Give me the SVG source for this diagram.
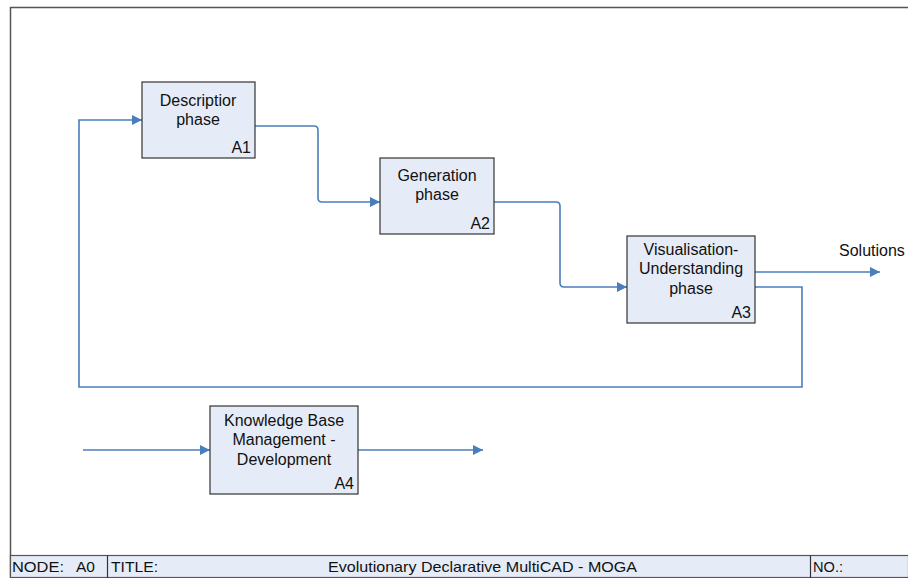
<svg xmlns="http://www.w3.org/2000/svg" width="908" height="578" viewBox="0 0 908 578">
  <style>
    .box { fill: #e6ecf7; stroke: #333; stroke-width: 1.2; }
    .lbl { font-family: "Liberation Sans", Arial, sans-serif; font-size: 16px; fill: #111; }
    .tb { font-size: 15px; }
    .mid { text-anchor: middle; }
    .end { text-anchor: end; }
    .wire { fill: none; stroke: #4a7ebb; stroke-width: 1.6; }
    .frame { fill: none; stroke: #555; stroke-width: 1.5; }
  </style>
  <defs>
    <marker id="arrow" viewBox="0 0 10 10" refX="10" refY="5" markerWidth="10" markerHeight="10" markerUnits="userSpaceOnUse" orient="auto">
      <path d="M0,0 L10,5 L0,10 z" fill="#4a7ebb"/>
    </marker>
  </defs>

  <rect width="908" height="578" fill="#fff"/>

  <!-- page frame -->
  <path class="frame" d="M908,7.5 H10.5 V578"/>

  <!-- title block -->
  <g id="title-block">
    <rect x="10.5" y="555.5" width="898" height="22" fill="#e6ecf7" stroke="#555" stroke-width="1.2"/>
    <line x1="107.5" y1="555.5" x2="107.5" y2="578" stroke="#333" stroke-width="1.2"/>
    <line x1="810.5" y1="555.5" x2="810.5" y2="578" stroke="#333" stroke-width="1.2"/>
    <text class="lbl tb" x="12" y="572" textLength="52" lengthAdjust="spacingAndGlyphs">NODE:</text>
    <text class="lbl tb" x="76" y="572" textLength="19" lengthAdjust="spacingAndGlyphs">A0</text>
    <text class="lbl tb" x="111" y="572" textLength="47" lengthAdjust="spacingAndGlyphs">TITLE:</text>
    <text class="lbl tb" x="328" y="572" textLength="309" lengthAdjust="spacingAndGlyphs">Evolutionary Declarative MultiCAD - MOGA</text>
    <text class="lbl tb" x="813" y="572" textLength="30" lengthAdjust="spacingAndGlyphs">NO.:</text>
  </g>

  <!-- connectors -->
  <g id="connectors">
    <path class="wire" d="M755,287 H802 V387 H79 V120 H142" marker-end="url(#arrow)"/>
    <path class="wire" d="M255,126 H314 Q318,126 318,130 V198 Q318,202 322,202 H380" marker-end="url(#arrow)"/>
    <path class="wire" d="M494,202 H556 Q560,202 560,206 V283 Q560,287 564,287 H627" marker-end="url(#arrow)"/>
    <path class="wire" d="M755,272 H880" marker-end="url(#arrow)"/>
    <path class="wire" d="M83,450 H210" marker-end="url(#arrow)"/>
    <path class="wire" d="M358,450 H483" marker-end="url(#arrow)"/>
    <text class="lbl" x="839" y="256">Solutions</text>
  </g>

  <!-- activities -->
  <g id="A1">
    <rect class="box" x="142" y="82" width="113" height="76"/>
    <text class="lbl mid" x="198" y="106">Descriptior</text>
    <text class="lbl mid" x="198" y="125">phase</text>
    <text class="lbl end" x="251" y="153">A1</text>
  </g>
  <g id="A2">
    <rect class="box" x="380" y="158" width="114" height="76"/>
    <text class="lbl mid" x="437" y="181">Generation</text>
    <text class="lbl mid" x="437" y="200">phase</text>
    <text class="lbl end" x="490" y="229">A2</text>
  </g>
  <g id="A3">
    <rect class="box" x="627" y="236" width="128" height="87"/>
    <text class="lbl mid" x="691" y="255">Visualisation-</text>
    <text class="lbl mid" x="691" y="274">Understanding</text>
    <text class="lbl mid" x="691" y="294">phase</text>
    <text class="lbl end" x="751" y="318">A3</text>
  </g>
  <g id="A4">
    <rect class="box" x="210" y="406" width="148" height="88"/>
    <text class="lbl mid" x="284" y="426">Knowledge Base</text>
    <text class="lbl mid" x="284" y="445">Management -</text>
    <text class="lbl mid" x="284" y="465">Development</text>
    <text class="lbl end" x="354" y="489">A4</text>
  </g>
</svg>
